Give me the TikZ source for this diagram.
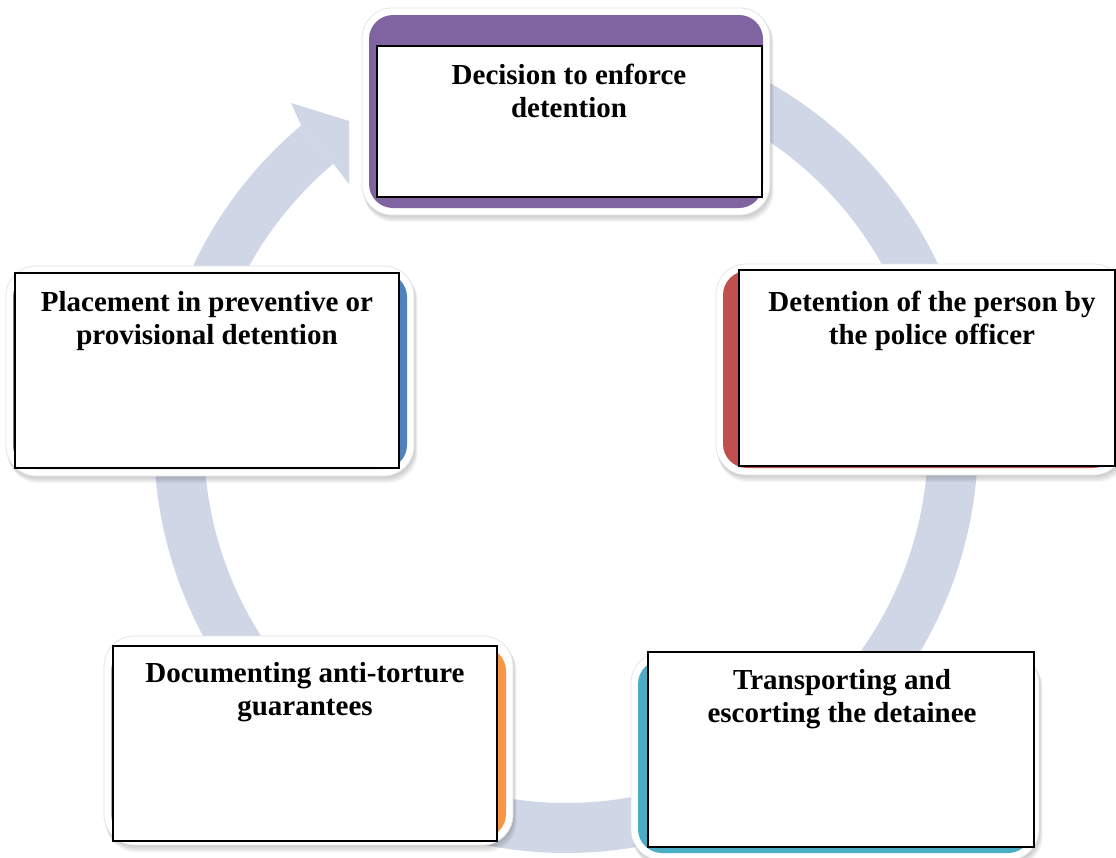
\documentclass[tikz,border=0pt]{standalone}
\usepackage{fontspec}
\setmainfont{Liberation Serif}
\usetikzlibrary{calc}
\definecolor{ringc}{HTML}{CFD6E6}
\definecolor{cpurple}{HTML}{8064A2}
\definecolor{cblue}{HTML}{4F81BD}
\definecolor{cred}{HTML}{C0504D}
\definecolor{cteal}{HTML}{4BACC6}
\definecolor{corange}{HTML}{F79646}
\newcommand\procshell[6]{%
  \foreach \s in {1,...,6}{\fill[black,opacity=0.035,rounded corners=30pt] (#1+0.3*\s,#2+0.8*\s) rectangle (#3+0.6*\s,#4+1.2*\s);}
  \filldraw[fill=white,draw=black!10,line width=0.8pt,rounded corners=30pt] (#1,#2) rectangle (#3,#4);
  \fill[#5,rounded corners=24pt] (#1+7,#2+7+#6) rectangle (#3-7,#4-7);
}
\tikzset{
  tbox/.style={draw=black,fill=white,line width=1.6pt,inner sep=0pt},
  lbl/.style={font=\fontsize{29}{33}\selectfont\bfseries,align=center,inner sep=0pt,anchor=north},
  ringfill/.style={fill=ringc}
}
\begin{document}
\begin{tikzpicture}[x=1pt,y=-1pt]
\useasboundingbox (0,0) rectangle (1116,857);
\clip (0,0) rectangle (1116,857);
\fill[white] (0,0) rectangle (1116,857);
% circular arrow
\fill[ringfill] plot[domain=-85:230,samples=240] ({566+412*cos(\x)},{441+412*sin(\x)})
  -- plot[domain=230:-85,samples=240] ({566+362*cos(\x)},{441+362*sin(\x)}) -- cycle;
\fill[ringfill] (301.2,125.4) -- (291,103) -- (349,121) -- (349,184) -- (333.3,163.7) -- cycle;
% boxes
\procshell{362}{8}{770}{215}{cpurple}{0}
\procshell{6}{266}{414}{476}{cblue}{0}
\procshell{716}{264}{1124}{475}{cred}{0}
\procshell{104}{636}{513}{845}{corange}{4}
\procshell{631}{653}{1039}{860}{cteal}{0}
\node[tbox,minimum width=385pt,minimum height=151pt] (b1) at (569.5,121.5) {};
\node[tbox,minimum width=384pt,minimum height=195pt] (b5) at (207,370.5) {};
\node[tbox,minimum width=376pt,minimum height=196pt] (b2) at (927,368) {};
\node[tbox,minimum width=384pt,minimum height=195pt] (b4) at (305,743.5) {};
\node[tbox,minimum width=386pt,minimum height=195pt] (b3) at (841,749.5) {};
\node[lbl] (t1) at (569,61) {\strut Decision to enforce\\\strut detention};
\node[lbl] (t5) at (207,288) {\strut Placement in preventive or\\\strut provisional detention};
\node[lbl] (t2) at (932,288) {\strut Detention of the person by\\\strut the police officer};
\node[lbl] (t4) at (305,659) {\strut Documenting anti-torture\\\strut guarantees};
\node[lbl] (t3) at (842,666) {\strut Transporting and\\\strut escorting the detainee};
\end{tikzpicture}
\end{document}
